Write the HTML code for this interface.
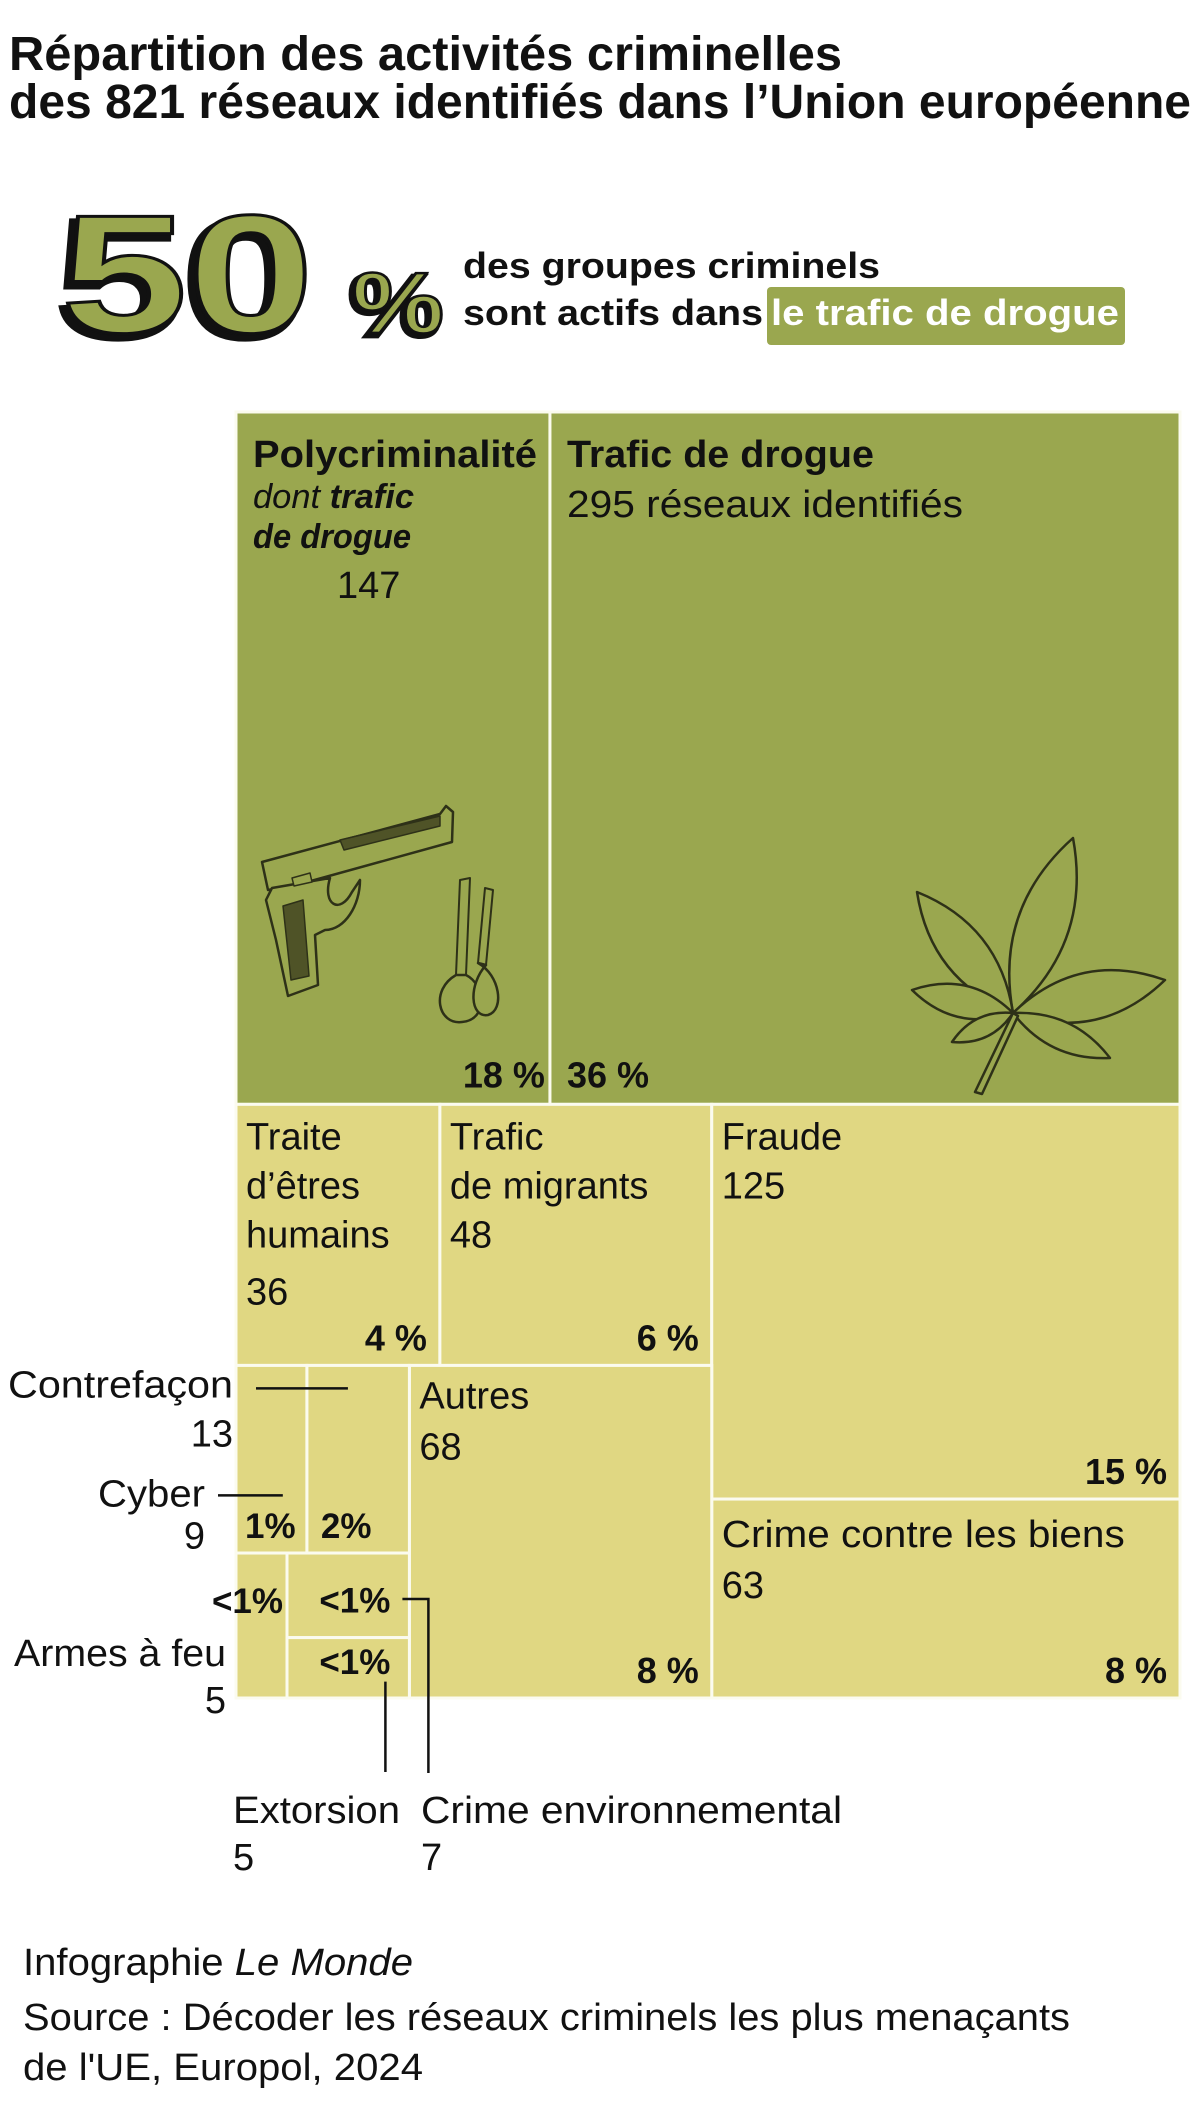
<!DOCTYPE html>
<html><head><meta charset="utf-8">
<style>
html,body{margin:0;padding:0;background:#fff;}
svg{display:block;font-family:"Liberation Sans",sans-serif;}
</style></head>
<body>
<svg id="chart" width="1200" height="2113" viewBox="0 0 1200 2113" xmlns="http://www.w3.org/2000/svg">
  <rect x="0" y="0" width="1200" height="2113" fill="#fff"/>
  <g font-weight="bold" font-size="48" fill="#111">
    <text x="9" y="70" textLength="833" lengthAdjust="spacingAndGlyphs">Répartition des activités criminelles</text>
    <text x="9" y="118" textLength="1182" lengthAdjust="spacingAndGlyphs">des 821 réseaux identifiés dans l’Union européenne</text>
  </g>
  <g font-weight="bold">
    <text x="56" y="337" font-size="168" fill="#111" stroke="#111" stroke-width="6" textLength="253" lengthAdjust="spacingAndGlyphs">50</text>
    <text x="61" y="332" font-size="168" fill="#9aa74f" stroke="#111" stroke-width="3" textLength="253" lengthAdjust="spacingAndGlyphs">50</text>
    <text x="349" y="336" font-size="86" fill="#111" stroke="#111" stroke-width="5" textLength="92" lengthAdjust="spacingAndGlyphs">%</text>
    <text x="352" y="333" font-size="86" fill="#9aa74f" stroke="#111" stroke-width="2.5" textLength="92" lengthAdjust="spacingAndGlyphs">%</text>
  </g>
  <g font-weight="bold" font-size="36" fill="#111">
    <text x="463" y="278" textLength="417" lengthAdjust="spacingAndGlyphs">des groupes criminels</text>
    <text x="463" y="325" textLength="300" lengthAdjust="spacingAndGlyphs">sont actifs dans</text>
    <rect x="767" y="287" width="358" height="58" rx="4" fill="#9aa74f"/>
    <text x="771" y="325" fill="#fff" textLength="348" lengthAdjust="spacingAndGlyphs">le trafic de drogue</text>
  </g>
  <g id="cells"></g>
  <g id="illus"></g>
  <g id="labels" fill="#111"></g>
  <g font-size="38" fill="#111">
    <text x="23" y="1975" textLength="390" lengthAdjust="spacingAndGlyphs">Infographie <tspan font-style="italic">Le Monde</tspan></text>
    <text x="23" y="2030" textLength="1047" lengthAdjust="spacingAndGlyphs">Source : Décoder les réseaux criminels les plus menaçants</text>
    <text x="23" y="2080" textLength="400" lengthAdjust="spacingAndGlyphs">de l'UE, Europol, 2024</text>
  </g>
</svg>
<script>
const categories = ['Polycriminalité','Trafic de drogue','Traite d’êtres humains','Trafic de migrants','Fraude','Crime contre les biens','Autres','Cyber','Contrefaçon','Armes à feu','Crime environnemental','Extorsion'];
const counts = [147,295,36,48,125,63,68,9,13,5,7,5];
const shares = ['18 %','36 %','4 %','6 %','15 %','8 %','8 %','1%','2%','<1%','<1%','<1%'];
const groups = ['drug','drug','other','other','other','other','other','other','other','other','other','other'];
// slice-and-dice structure (indices into categories)
const tree = {d:'v',c:[{d:'h',c:[0,1]},{d:'h',c:[{d:'v',c:[{d:'h',c:[2,3]},{d:'h',c:[{d:'v',c:[{d:'h',c:[7,8]},{d:'h',c:[9,{d:'v',c:[10,11]}]}]},6]}]},{d:'v',c:[4,5]}]}]};

const NS='http://www.w3.org/2000/svg';
const frame={x:236,y:412,w:944,h:1286};
const rects=[];
function total(n){return typeof n==='number'?counts[n]:n.c.reduce((s,k)=>s+total(k),0);}
function layout(n,r){
  if(typeof n==='number'){rects[n]=r;return;}
  const t=total(n);let off=0;
  n.c.forEach(k=>{const f=total(k)/t;
    if(n.d==='h'){layout(k,{x:r.x+off*r.w,y:r.y,w:f*r.w,h:r.h});}
    else{layout(k,{x:r.x,y:r.y+off*r.h,w:r.w,h:f*r.h});}
    off+=f;});
}
layout(tree,frame);

const cells=document.getElementById('cells');
rects.forEach((r,i)=>{
  const el=document.createElementNS(NS,'rect');
  el.setAttribute('x',r.x);el.setAttribute('y',r.y);el.setAttribute('width',r.w);el.setAttribute('height',r.h);
  el.setAttribute('fill',groups[i]==='drug'?'#9aa74f':'#e0d782');
  el.setAttribute('stroke','#fbfbef');el.setAttribute('stroke-width','3');
  
  
  cells.appendChild(el);
});

const L=document.getElementById('labels');
function txt(s,x,y,o){o=o||{};
  const t=document.createElementNS(NS,'text');
  t.setAttribute('x',x);t.setAttribute('y',y);
  t.setAttribute('font-size',o.size||38);
  if(o.bold)t.setAttribute('font-weight','bold');
  if(o.italic)t.setAttribute('font-style','italic');
  if(o.anchor)t.setAttribute('text-anchor',o.anchor);
  if(o.len){t.setAttribute('textLength',o.len);t.setAttribute('lengthAdjust','spacingAndGlyphs');}
  if(o.html)t.innerHTML=s;else t.textContent=s;
  
  
  L.appendChild(t);return t;}
function line(x1,y1,x2,y2,name){
  const p=document.createElementNS(NS,'polyline');
  p.setAttribute('points',[x1,y1,x2,y2].join(' '));
  p.setAttribute('stroke','#111');p.setAttribute('stroke-width','2.5');p.setAttribute('fill','none');
  
  
  L.appendChild(p);return p;}
function pl(pts,name){
  const p=document.createElementNS(NS,'polyline');
  p.setAttribute('points',pts.join(' '));
  p.setAttribute('stroke','#111');p.setAttribute('stroke-width','2.5');p.setAttribute('fill','none');
  
  
  L.appendChild(p);}
const R=rects;
function pctR(i,dx,dy){txt(shares[i],R[i].x+R[i].w-dx,R[i].y+R[i].h-dy,{bold:true,size:36,anchor:'end',name:'share-'+i});}
// green
txt(categories[0],R[0].x+17,R[0].y+55,{bold:true,size:38,len:284,name:'label-polycriminalite'});
txt('dont <tspan font-weight="bold">trafic</tspan>',R[0].x+17,R[0].y+96,{italic:true,size:34,html:true,len:161,name:'label-dont-trafic'});
txt('de drogue',R[0].x+17,R[0].y+136,{italic:true,bold:true,size:34,len:158,name:'label-de-drogue'});
txt(String(counts[0]),R[0].x+101,R[0].y+186,{size:38,name:'count-0'});
pctR(0,5,17);
txt(categories[1],R[1].x+17,R[1].y+55,{bold:true,size:38,len:307,name:'label-trafic-drogue'});
txt(counts[1]+' réseaux identifiés',R[1].x+17,R[1].y+105,{size:38,len:396,name:'count-1'});
txt(shares[1],R[1].x+17,R[1].y+R[1].h-17,{bold:true,size:36,name:'share-1'});
// yellow
[['Traite','d’êtres','humains'],['Trafic','de migrants'],['Fraude']].forEach((ls,k)=>{const i=k+2;
  ls.forEach((s,j)=>txt(s,R[i].x+10,R[i].y+45+49*j,{name:'label-'+i}));
  txt(String(counts[i]),R[i].x+10,R[i].y+(i===2?200:45+49*ls.length),{name:'count-'+i});
  pctR(i,13,15);});
txt(categories[5],R[5].x+10,R[5].y+48,{len:403,name:'label-5'});
txt(String(counts[5]),R[5].x+10,R[5].y+99,{name:'count-5'});
pctR(5,13,15);
txt(categories[6],R[6].x+10,R[6].y+43,{name:'label-6'});
txt(String(counts[6]),R[6].x+10,R[6].y+94,{name:'count-6'});
pctR(6,13,15);
// small cells
txt(shares[7],R[7].x+9,R[7].y+R[7].h-15,{bold:true,size:35,name:'share-7'});
txt(shares[8],R[8].x+14,R[8].y+R[8].h-15,{bold:true,size:35,name:'share-8'});
txt(shares[9],R[9].x+R[9].w-4,R[9].y+60,{bold:true,size:35,anchor:'end',name:'share-9'});
txt(shares[10],R[10].x+R[10].w-19,R[10].y+R[10].h-25,{bold:true,size:35,anchor:'end',name:'share-10'});
txt(shares[11],R[11].x+R[11].w-19,R[11].y+R[11].h-24,{bold:true,size:35,anchor:'end',name:'share-11'});
// external labels
txt(categories[8],frame.x-3,R[8].y+32,{anchor:'end',len:225,name:'label-contrefacon'});
txt(String(counts[8]),frame.x-3,R[8].y+81,{anchor:'end',name:'count-8'});
line(frame.x+20,R[8].y+23,R[8].x+R[8].w*0.4,R[8].y+23,'leader-contrefacon');
txt(categories[7],frame.x-31,R[7].y+141,{anchor:'end',len:107,name:'label-cyber'});
txt(String(counts[7]),frame.x-31,R[7].y+183,{anchor:'end',name:'count-7'});
line(frame.x-18,R[7].y+130,R[7].x+R[7].w*0.66,R[7].y+130,'leader-cyber');
txt(categories[9],R[9].x-10,R[9].y+113,{anchor:'end',len:212,name:'label-armes'});
txt(String(counts[9]),R[9].x-10,R[9].y+160,{anchor:'end',name:'count-9'});
pl([R[10].x+R[10].w-7,R[10].y+46,R[10].x+R[10].w+19,R[10].y+46,R[10].x+R[10].w+19,1773],'leader-crime-env');
line(R[11].x+R[11].w-24,R[11].y+44,R[11].x+R[11].w-24,1772,'leader-extorsion');
txt(categories[11],233,1823,{len:167,name:'label-extorsion'});
txt(String(counts[11]),233,1870,{name:'count-11'});
txt(categories[10],421,1823,{len:421,name:'label-crime-env'});
txt(String(counts[10]),421,1870,{name:'count-10'});

// illustrations
const I=document.getElementById('illus');
function path(d,fill,sw,name){const p=document.createElementNS(NS,'path');
  p.setAttribute('d',d);p.setAttribute('fill',fill);p.setAttribute('stroke','#2e3118');p.setAttribute('stroke-width',sw);
  p.setAttribute('stroke-linejoin','round');
  
  
  I.appendChild(p);}
// gun
path('M262,862 L440,814 L446,806 L453,812 L452,842 L300,884 L268,890 Z','#9aa74f',2.5,'gun-slide');
path('M340,840 L440,816 L440,826 L344,850 Z','#4f5327',1.5,'gun-slide-groove');
path('M272,888 L330,878 C322,905 340,915 352,892 L360,880 C360,905 345,930 325,930 L315,935 L318,985 L288,996 L276,940 L266,900 Z','#9aa74f',2.5,'gun-frame');
path('M283,906 L303,900 L309,976 L291,980 Z','#4f5327',1.5,'gun-grip');
path('M292,878 L310,873 L312,882 L294,886 Z','#9aa74f',1.5,'gun-serration');
// bags
path('M460,880 L470,878 L466,975 L456,975 Z','#9aa74f',2,'bag-tie-1');
path('M485,888 L493,890 L486,965 L478,963 Z','#9aa74f',2,'bag-tie-2');
path('M456,975 C430,990 438,1025 462,1022 C488,1020 486,985 466,975 Z','#9aa74f',2.5,'bag-1');
path('M478,963 C500,975 505,1010 488,1015 C470,1018 468,985 486,965 Z','#9aa74f',2.5,'bag-2');
// leaf
const bx=1013,by=1013;
[[1073,838,26],[917,892,22],[1165,980,24],[912,990,16],[952,1042,10],[1110,1058,14]].forEach((t,k)=>{
  const dx=t[0]-bx,dy=t[1]-by,len=Math.hypot(dx,dy),nx=-dy/len*t[2],ny=dx/len*t[2];
  const mx=bx+dx*0.5,my=by+dy*0.5;
  path('M'+bx+','+by+' Q'+(mx+nx*2)+','+(my+ny*2)+' '+t[0]+','+t[1]+' Q'+(mx-nx*2)+','+(my-ny*2)+' '+bx+','+by+' Z','#9aa74f',2.5,'leaf-leaflet-'+k);
});
path('M1013,1013 L975,1092 L982,1094 L1018,1016 Z','#9aa74f',2.5,'leaf-stem');
</script>
</body></html>
